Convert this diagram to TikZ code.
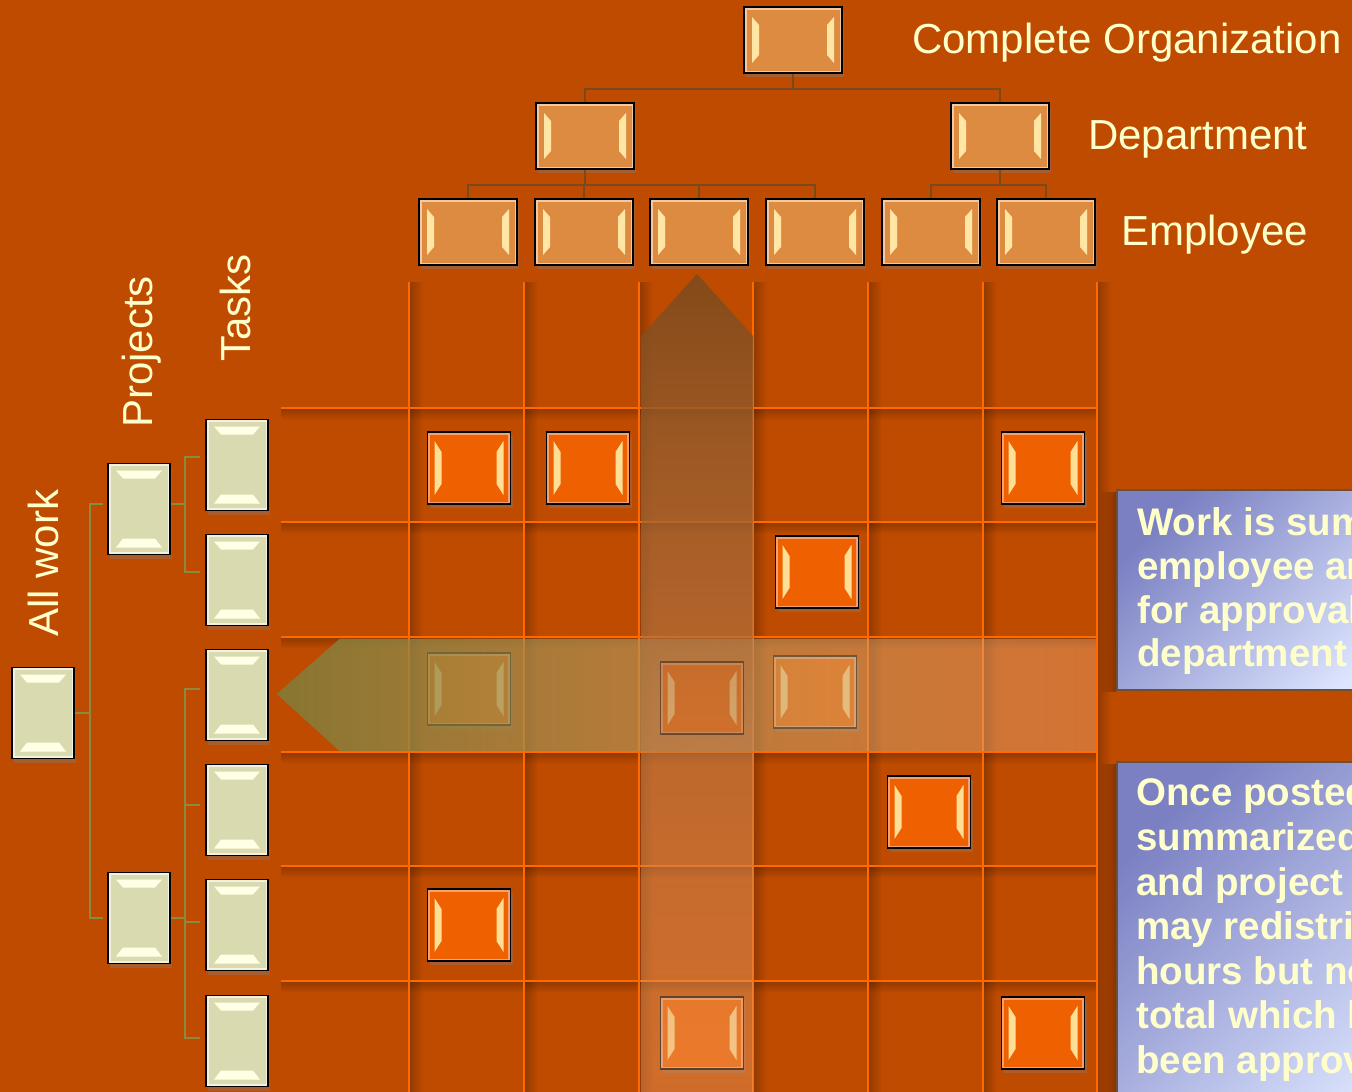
\documentclass[tikz,border=0pt]{standalone}
\usepackage{fontspec}
\setmainfont{Liberation Sans}
\usetikzlibrary{calc,shadows,fadings}

\definecolor{bg}{RGB}{191,75,0}
\definecolor{gridc}{RGB}{255,106,0}
\definecolor{orgfill}{RGB}{222,139,66}
\definecolor{orgrim}{RGB}{246,200,160}
\definecolor{orghl}{RGB}{255,230,165}
\definecolor{sqfill}{RGB}{238,96,0}
\definecolor{sqrim}{RGB}{245,160,110}
\definecolor{sqhl}{RGB}{255,222,150}
\definecolor{bgefill}{RGB}{218,218,176}
\definecolor{bgerim}{RGB}{242,242,222}
\definecolor{bgehl}{RGB}{255,255,230}
\definecolor{orgline}{RGB}{122,74,28}
\definecolor{treeline}{RGB}{138,138,64}
\definecolor{txt}{RGB}{255,255,204}
\definecolor{infoA}{RGB}{122,128,194}
\definecolor{infoB}{RGB}{222,230,255}
\definecolor{infoedge}{RGB}{110,80,50}
\definecolor{harrowL}{RGB}{126,126,58}
\definecolor{harrowR}{RGB}{240,176,128}
\definecolor{varrowT}{RGB}{122,74,30}
\definecolor{varrowM}{RGB}{222,146,92}
\definecolor{varrowB}{RGB}{236,164,112}

\tikzfading[name=fadeH, left color=transparent!15, right color=transparent!60]
\tikzfading[name=fadeV, top color=transparent!15, bottom color=transparent!62]
\tikzfading[name=fadeR, left color=transparent!78, right color=transparent!100]
\tikzfading[name=fadeD, top color=transparent!78, bottom color=transparent!100]
\tikzfading[name=fadeL, left color=transparent!100, right color=transparent!70]

\tikzset{
  gridline/.style={draw=gridc, line width=2pt},
  orgcon/.style={draw=orgline, line width=2.5pt},
  treecon/.style={draw=treeline, line width=2pt},
  boxshadow/.style={drop shadow={opacity=0.35, shadow xshift=2pt, shadow yshift=-4pt}},
  orgbox/.style={draw=black, line width=1.6pt, fill=orgfill, minimum width=98pt,
    minimum height=66pt, inner sep=0pt, boxshadow,
    path picture={
      \coordinate (NW) at (path picture bounding box.north west);
      \coordinate (SE) at (path picture bounding box.south east);
      \draw[orgrim, line width=5pt] (NW) rectangle (SE);
      \fill[orghl] ($(NW)+(8,10)$) -- ++(7,8) -- ($(NW |- SE)+(15,-18)$) -- ++(-7,8) -- cycle;
      \fill[orghl] ($(SE |- NW)+(-8,10)$) -- ++(-7,8) -- ($(SE)+(-15,-18)$) -- ++(7,8) -- cycle;
    }},
  sqbox/.style={draw=black, line width=1.6pt, fill=sqfill, minimum width=83pt,
    minimum height=72pt, inner sep=0pt, boxshadow,
    path picture={
      \coordinate (NW) at (path picture bounding box.north west);
      \coordinate (SE) at (path picture bounding box.south east);
      \draw[sqrim, line width=5pt] (NW) rectangle (SE);
      \fill[sqhl] ($(NW)+(7,9)$) -- ++(7,11) -- ($(NW |- SE)+(14,-20)$) -- ++(-7,11) -- cycle;
      \fill[sqhl] ($(SE |- NW)+(-7,9)$) -- ++(-7,11) -- ($(SE)+(-14,-20)$) -- ++(7,11) -- cycle;
    }},
  bgebox/.style={draw=black, line width=1.6pt, fill=bgefill, minimum width=62pt,
    minimum height=91pt, inner sep=0pt, boxshadow,
    path picture={
      \coordinate (NW) at (path picture bounding box.north west);
      \coordinate (SE) at (path picture bounding box.south east);
      \draw[bgerim, line width=5pt] (NW) rectangle (SE);
      \fill[bgehl] ($(NW)+(8,7)$) -- ($(SE |- NW)+(-8,7)$) -- ++(-7,8) -- ($(NW)+(15,15)$) -- cycle;
      \fill[bgehl] ($(NW |- SE)+(8,-7)$) -- ($(SE)+(-8,-7)$) -- ++(-7,-9) -- ($(NW |- SE)+(15,-16)$) -- cycle;
    }},
  lbl/.style={text=txt, inner sep=0pt, font=\fontsize{42}{50}\selectfont},
  infobox/.style={draw=infoedge, line width=1.5pt, top color=infoA, bottom color=infoB,
    shading angle=45, inner sep=0pt, anchor=north west},
  infotext/.style={text=txt, inner sep=0pt, anchor=base west,
    font=\bfseries\fontsize{38.5}{45}\selectfont},
}

\begin{document}
\begin{tikzpicture}[x=1pt,y=-1pt]
\useasboundingbox (0,0) rectangle (1352,1092);
\clip (0,0) rectangle (1352,1092);
\fill[bg] (0,0) rectangle (1352,1092);

% soft shadows of the grid lines
\foreach \x in {409,524,639,753,868,983,1097}
  \fill[black, path fading=fadeR] (\x+1,282) rectangle (\x+14,1092);
\foreach \y in {408,522,637,752,866,981}
  \fill[black, path fading=fadeD] (281,\y+1) rectangle (1097,\y+12);

% grid
\foreach \x in {409,524,639,753,868,983,1097} \draw[gridline] (\x,282) -- (\x,1092);
\foreach \y in {408,522,637,752,866,981} \draw[gridline] (281,\y) -- (1097,\y);

% work squares
\node[sqbox] (s1) at (469,468) {};
\node[sqbox] (s2) at (588,468) {};
\node[sqbox] (s3) at (1043,468) {};
\node[sqbox] (s4) at (817,572) {};
\node[sqbox] (s5) at (469,689) {};
\node[sqbox] (s7) at (815,692) {};
\node[sqbox] (s8) at (929,812) {};
\node[sqbox] (s9) at (469,925) {};
\node[sqbox] (s10) at (702,1033) {};
\node[sqbox] (s11) at (1043,1033) {};

% translucent arrows
\shade[left color=harrowL, right color=harrowR, path fading=fadeH]
  (1097,639) -- (340,639) -- (277,694) -- (340,751) -- (1097,751) -- cycle;
\node[sqbox] (s6) at (702,698) {};
\shade[top color=varrowT, middle color=varrowM, bottom color=varrowB, path fading=fadeV]
  (641,1092) -- (641,336) -- (697,274) -- (753,336) -- (753,1092) -- cycle;

% organisation chart
\node[orgbox] (co) at (793,40) {};
\node[orgbox] (d1) at (585,136) {};
\node[orgbox] (d2) at (1000,136) {};
\node[orgbox] (e1) at (468,232) {};
\node[orgbox] (e2) at (584,232) {};
\node[orgbox] (e3) at (699,232) {};
\node[orgbox] (e4) at (815,232) {};
\node[orgbox] (e5) at (931,232) {};
\node[orgbox] (e6) at (1046,232) {};
\draw[orgcon] (co.south) -- ++(0,15) -| (d1.north);
\draw[orgcon] (co.south) -- ++(0,15) -| (d2.north);
\foreach \e in {e1,e2,e3,e4} \draw[orgcon] (d1.south) -- ++(0,15) -| (\e.north);
\foreach \e in {e5,e6} \draw[orgcon] (d2.south) -- ++(0,15) -| (\e.north);

% work breakdown tree
\node[bgebox] (aw) at (43,713) {};
\node[bgebox] (p1) at (139,509) {};
\node[bgebox] (p2) at (139,918) {};
\node[bgebox] (t1) at (237,465) {};
\node[bgebox] (t2) at (237,580) {};
\node[bgebox] (t3) at (237,695) {};
\node[bgebox] (t4) at (237,810) {};
\node[bgebox] (t5) at (237,925) {};
\node[bgebox] (t6) at (237,1041) {};
\draw[treecon, shorten >=4pt] (aw.east) -- ++(15,0) |- ($(p1.west)+(0,-5)$);
\draw[treecon, shorten >=4pt] (aw.east) -- ++(15,0) |- (p2.west);
\foreach \t in {t1,t2} \draw[treecon, shorten >=5pt] ($(p1.east)+(0,-5)$) -- ++(14,0) |- ($(\t.west)+(0,-8)$);
\draw[treecon, shorten >=5pt] (p2.east) -- ++(14,0) |- ($(t3.west)+(0,-6)$);
\draw[treecon, shorten >=5pt] (p2.east) -- ++(14,0) |- ($(t4.west)+(0,-5)$);
\draw[treecon, shorten >=5pt] (p2.east) -- ++(14,0) |- ($(t5.west)+(0,-3)$);
\draw[treecon, shorten >=5pt] (p2.east) -- ++(14,0) |- ($(t6.west)+(0,-3)$);

% labels
\node[lbl, anchor=base west] (lco) at (912,53) {Complete Organization};
\node[lbl, anchor=base west] (ldp) at (1088,149) {Department};
\node[lbl, anchor=base west] (lem) at (1121,245) {Employee};
\node[lbl, rotate=90, anchor=base west] (law) at (58,637) {All work};
\node[lbl, rotate=90, anchor=base west] (lpr) at (152,428) {Projects};
\node[lbl, rotate=90, anchor=base west] (lta) at (250,362) {Tasks};

% info boxes
\fill[black, path fading=fadeL] (1100,492) rectangle (1116,692);
\fill[black, path fading=fadeL] (1100,764) rectangle (1116,1092);
\node[infobox, minimum width=300pt, minimum height=200pt] (ib1) at (1116,489) {};
\node[infotext] (a1) at (1137,535) {Work is summarized by};
\node[infotext] (a2) at (1137,579) {employee and sent};
\node[infotext] (a3) at (1137,623) {for approval to};
\node[infotext] (a4) at (1137,666) {department supervisor};

\node[infobox, minimum width=300pt, minimum height=400pt] (ib2) at (1116,761) {};
\node[infotext] (b1) at (1136,805) {Once posted, work is};
\node[infotext] (b2) at (1136,850) {summarized by task};
\node[infotext] (b3) at (1136,895) {and project manager};
\node[infotext] (b4) at (1136,939) {may redistribute};
\node[infotext] (b5) at (1136,984) {hours but not change};
\node[infotext] (b6) at (1136,1028) {total which has};
\node[infotext] (b7) at (1136,1073) {been approved};
\end{tikzpicture}
\end{document}
